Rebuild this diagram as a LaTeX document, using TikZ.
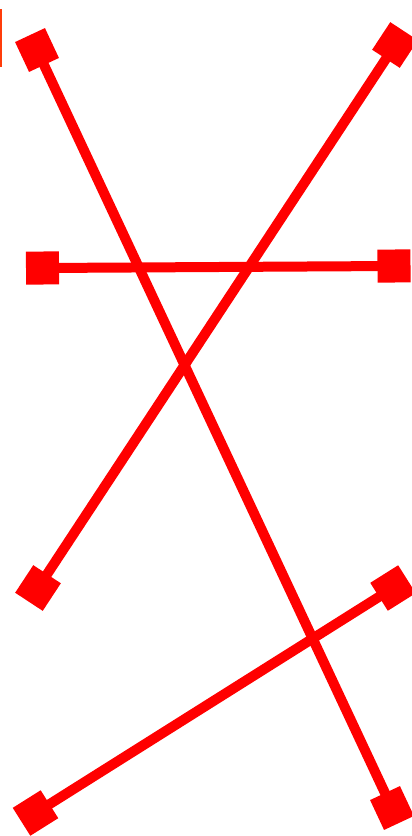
\documentclass[tikz,border=0pt]{standalone}
\usepackage{tikz}
\usetikzlibrary{arrows.meta}
\definecolor{barred}{RGB}{255,60,10}
\tikzstyle{link} = [red, line width=10pt, {Square[length=33pt,width=33pt]}-{Square[length=33pt,width=33pt]}, shorten <=-16.5pt, shorten >=-16.5pt]

\begin{document}
\begin{tikzpicture}[x=1pt,y=-1pt]
            \useasboundingbox (0,0) rectangle (412,836);
            \fill [barred] (0,9) rectangle (2.3,67);
            \coordinate (a1) at (37,50);
            \coordinate (a2) at (392,808);
            \coordinate (b1) at (395,45);
            \coordinate (b2) at (38,588);
            \coordinate (c1) at (42.5,268);
            \coordinate (c2) at (394,266);
            \coordinate (d1) at (35.5,813);
            \coordinate (d2) at (393,588);
            \draw [link] (a1) -- (a2);
            \draw [link] (b1) -- (b2);
            \draw [link] (c1) -- (c2);
            \draw [link] (d1) -- (d2);
            \end{tikzpicture}
\end{document}
